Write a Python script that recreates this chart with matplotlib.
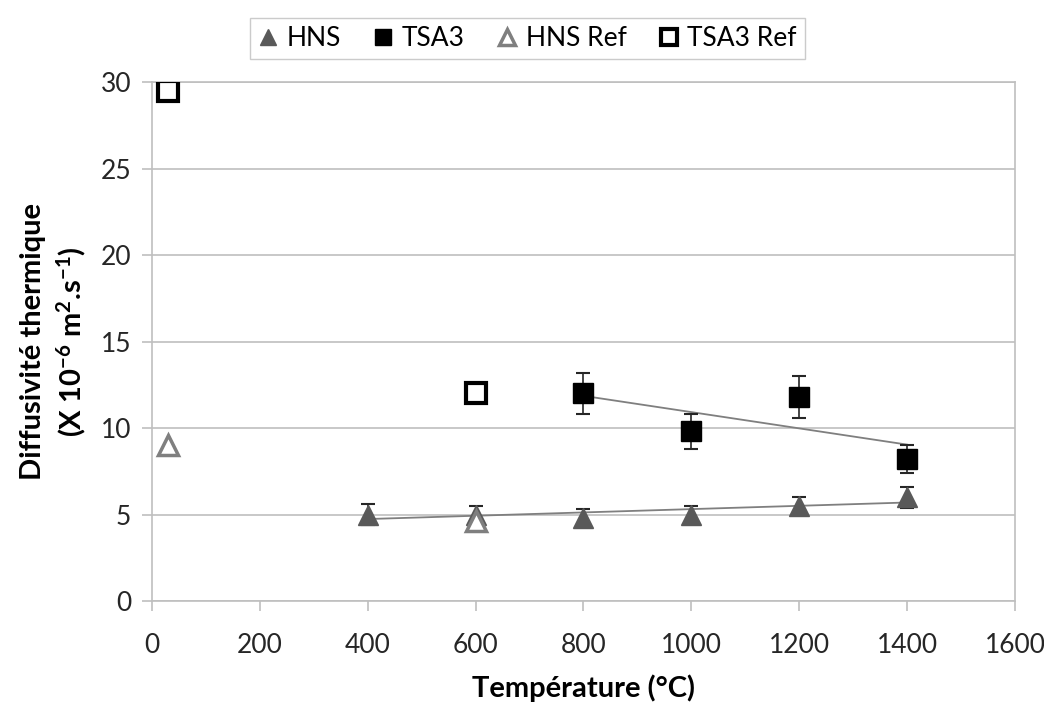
import matplotlib.pyplot as plt
import numpy as np

plt.rcParams['font.family'] = ['Lato', 'DejaVu Sans']
plt.rcParams['mathtext.default'] = 'regular'

# HNS (measured)
hns_t = [400, 600, 800, 1000, 1200, 1400]
hns_d = [5.0, 5.0, 4.8, 5.0, 5.5, 6.0]
hns_err = [0.6, 0.5, 0.5, 0.5, 0.5, 0.6]

# TSA3 (measured)
tsa_t = [800, 1000, 1200, 1400]
tsa_d = [12.0, 9.8, 11.8, 8.2]
tsa_err = [1.2, 1.0, 1.2, 0.8]

# reference values
hns_ref_t = [30, 600]
hns_ref_d = [9.0, 4.6]
tsa_ref_t = [30, 600]
tsa_ref_d = [29.5, 12.0]

grid_col = '#bfbfbf'

fig = plt.figure(figsize=(10.44, 7.09), dpi=100)
ax = fig.add_axes([0.1456, 0.1523, 0.8266, 0.732])

ax.set_xlim(0, 1600)
ax.set_ylim(0, 30)
ax.set_xticks(np.arange(0, 1601, 200))
ax.set_yticks(np.arange(0, 31, 5))
ax.yaxis.grid(True, color=grid_col, linewidth=1.2)
ax.set_axisbelow(True)
for s in ax.spines.values():
    s.set_color(grid_col)
    s.set_linewidth(1.2)
ax.tick_params(colors=grid_col, labelcolor='#262626', labelsize=19,
               length=7, width=1.2)
ax.tick_params(axis='x', pad=16)
ax.tick_params(axis='y', pad=8)

# linear trendlines
for t, d in [(hns_t, hns_d), (tsa_t, tsa_d)]:
    p = np.polyfit(t, d, 1)
    xs = np.array([min(t), max(t)])
    ax.plot(xs, np.polyval(p, xs), color='#7f7f7f', linewidth=1.3, zorder=2)

ax.errorbar(hns_t, hns_d, yerr=hns_err, fmt='none', ecolor='#262626',
            elinewidth=1.2, capsize=5, capthick=1.5, zorder=3)
ax.errorbar(tsa_t, tsa_d, yerr=tsa_err, fmt='none', ecolor='#262626',
            elinewidth=1.2, capsize=5, capthick=1.5, zorder=3)

h1, = ax.plot(hns_t, hns_d, linestyle='none', marker='^', markersize=15,
              color='#595959', label='HNS', zorder=4)
h2, = ax.plot(tsa_t, tsa_d, linestyle='none', marker='s', markersize=14,
              color='black', label='TSA3', zorder=4)
h3, = ax.plot(hns_ref_t, hns_ref_d, linestyle='none', marker='^', markersize=15,
              markerfacecolor='white', markeredgecolor='#7f7f7f',
              markeredgewidth=2.5, label='HNS Ref', zorder=5)
h4, = ax.plot(tsa_ref_t, tsa_ref_d, linestyle='none', marker='s', markersize=14,
              markerfacecolor='white', markeredgecolor='black',
              markeredgewidth=3, label='TSA3 Ref', zorder=5)

ax.set_xlabel('Température (°C)', fontsize=21, fontweight='bold', labelpad=12)
ax.set_ylabel('Diffusivité thermique\n(X 10$^{-6}$ m$^{2}$.s$^{-1}$)',
              fontsize=21, fontweight='bold', labelpad=9, linespacing=1.3)

fig.legend(handles=[h1, h2, h3, h4], loc='upper center',
           bbox_to_anchor=(0.505, 0.993), ncol=4, fontsize=19, frameon=True,
           fancybox=False, edgecolor=grid_col, handlelength=0.8,
           handletextpad=0.3, columnspacing=1.2, markerscale=0.8,
           borderpad=0.3)

fig.savefig('out.png', dpi=100)
